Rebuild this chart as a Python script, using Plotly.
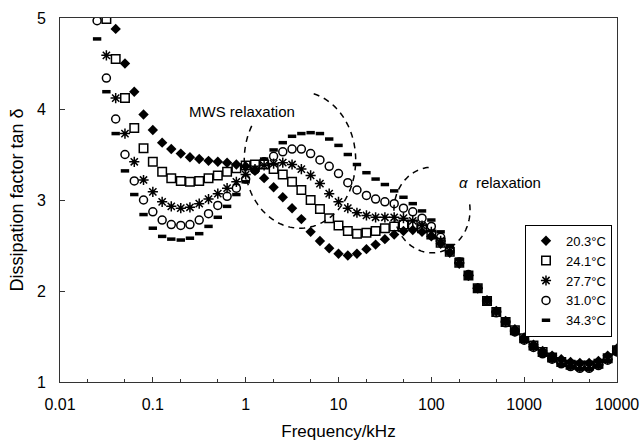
import numpy as np
import plotly.graph_objects as go

# Frequency grid (kHz), 10 points per decade
freq = [0.0251, 0.0316, 0.0398, 0.0501, 0.0631, 0.0794, 0.1, 0.126, 0.158, 0.2,
        0.251, 0.316, 0.398, 0.501, 0.631, 0.794, 1, 1.26, 1.58, 2,
        2.51, 3.16, 3.98, 5.01, 6.31, 7.94, 10, 12.6, 15.8, 20,
        25.1, 31.6, 39.8, 50.1, 63.1, 79.4, 100, 126, 158, 200,
        251, 316, 398, 501, 631, 794, 1000, 1260, 1580, 2000,
        2510, 3160, 3980, 5010, 6310, 7940, 10000]

t203 = [None, None, 4.88, 4.50, 4.19, 3.94, 3.77, 3.63, 3.56, 3.51,
        3.47, 3.45, 3.43, 3.42, 3.41, 3.39, 3.37, 3.32, 3.24, 3.14,
        3.03, 2.91, 2.79, 2.65, 2.55, 2.47, 2.41, 2.39, 2.41, 2.46,
        2.51, 2.57, 2.62, 2.66, 2.67, 2.65, 2.60, 2.52, 2.42, 2.30,
        2.17, 2.03, 1.90, 1.78, 1.67, 1.58, 1.49, 1.41, 1.34, 1.29,
        1.25, 1.22, 1.21, 1.21, 1.23, 1.29, 1.37]

t241 = [None, 4.99, 4.55, 4.12, 3.79, 3.57, 3.42, 3.31, 3.24, 3.21,
        3.20, 3.21, 3.24, 3.27, 3.31, 3.35, 3.38, 3.39, 3.39, 3.34,
        3.28, 3.20, 3.11, 3.00, 2.90, 2.80, 2.72, 2.66, 2.63, 2.64,
        2.66, 2.69, 2.71, 2.73, 2.73, 2.69, 2.62, 2.53, 2.43, 2.31,
        2.17, 2.03, 1.89, 1.77, 1.66, 1.57, 1.48, 1.40, 1.33, 1.27,
        1.22, 1.19, 1.18, 1.18, 1.20, 1.26, 1.35]

t277 = [None, 4.59, 4.12, 3.73, 3.42, 3.22, 3.09, 2.98, 2.93, 2.91,
        2.92, 2.96, 3.01, 3.07, 3.13, 3.20, 3.28, 3.34, 3.38, 3.40,
        3.41, 3.39, 3.34, 3.27, 3.18, 3.07, 2.98, 2.91, 2.86, 2.83,
        2.81, 2.81, 2.81, 2.80, 2.77, 2.72, 2.65, 2.55, 2.44, 2.31,
        2.17, 2.03, 1.89, 1.77, 1.66, 1.56, 1.47, 1.39, 1.32, 1.26,
        1.21, 1.18, 1.16, 1.16, 1.19, 1.25, 1.34]

t310 = [4.97, 4.34, 3.89, 3.50, 3.21, 3.00, 2.87, 2.78, 2.73, 2.72,
        2.73, 2.78, 2.85, 2.94, 3.04, 3.13, 3.23, 3.33, 3.42, 3.48,
        3.53, 3.56, 3.56, 3.51, 3.44, 3.37, 3.29, 3.19, 3.11, 3.05,
        3.01, 2.98, 2.96, 2.91, 2.87, 2.80, 2.71, 2.59, 2.46, 2.32,
        2.18, 2.03, 1.89, 1.76, 1.65, 1.55, 1.46, 1.38, 1.31, 1.25,
        1.20, 1.17, 1.15, 1.15, 1.18, 1.24, 1.33]

t343 = [4.77, 4.19, 3.73, 3.32, 3.06, 2.84, 2.69, 2.60, 2.57, 2.56,
        2.58, 2.63, 2.71, 2.81, 2.93, 3.06, 3.20, 3.33, 3.45, 3.55,
        3.63, 3.70, 3.73, 3.74, 3.73, 3.67, 3.60, 3.50, 3.39, 3.30,
        3.23, 3.17, 3.10, 3.03, 2.96, 2.88, 2.78, 2.65, 2.50, 2.35,
        2.19, 2.04, 1.89, 1.76, 1.64, 1.54, 1.45, 1.37, 1.30, 1.24,
        1.19, 1.16, 1.14, 1.14, 1.17, 1.23, 1.32]

names = ["20.3°C", "24.1°C", "27.7°C", "31.0°C", "34.3°C"]
series = [t203, t241, t277, t310, t343]
symbols = ["diamond", "square-open", "asterisk-open", "circle-open", "line-ew-open"]
sizes = [8, 8.5, 8.5, 8, 6]
lwidths = [0, 1.5, 1.5, 1.5, 3.5]

fig = go.Figure()
for nm, ys, sym, sz, lw in zip(names, series, symbols, sizes, lwidths):
    fig.add_trace(go.Scatter(
        x=freq, y=ys, mode="markers", name=nm,
        marker=dict(symbol=sym, size=sz, color="black",
                    line=dict(color="black", width=lw)),
    ))

# dashed hand-drawn ellipses (paper coordinates from log-frequency/value space)
def ellipse_path(cx_log, cy, rx, ry, t0, t1):
    th = np.radians(np.linspace(t0, t1, 120))
    xs = (cx_log + rx * np.cos(th) + 2) / 6
    ys = (cy + ry * np.sin(th) - 1) / 4
    pts = [f"{x:.4f},{y:.4f}" for x, y in zip(xs, ys)]
    return "M " + " L ".join(pts)

fig.add_shape(type="path", xref="paper", yref="paper",
              path=ellipse_path(0.585, 3.44, 0.60, 0.75, 150, 440),
              line=dict(color="black", width=1.5, dash="6px,5px"))
fig.add_shape(type="path", xref="paper", yref="paper",
              path=ellipse_path(2.007, 2.89, 0.41, 0.47, 95, 373),
              line=dict(color="black", width=1.5, dash="6px,5px"))

fig.add_annotation(text="MWS relaxation", xref="paper", yref="paper",
                   x=0.327, y=0.742, xanchor="center", yanchor="middle",
                   showarrow=False, font=dict(size=15, color="black"))
fig.add_annotation(text="<i>α</i>  relaxation", xref="paper", yref="paper",
                   x=0.79, y=0.547, xanchor="center", yanchor="middle",
                   showarrow=False, font=dict(size=15, color="black"))

font = "Liberation Sans, Arial, sans-serif"
fig.update_layout(
    width=643, height=446,
    margin=dict(l=60, r=26, t=18, b=64, autoexpand=False),
    paper_bgcolor="white", plot_bgcolor="white",
    font=dict(family=font, size=14, color="black"),
    showlegend=True,
    legend=dict(x=0.991, y=0.432, xanchor="right", yanchor="top",
                bordercolor="black", borderwidth=1, bgcolor="white",
                font=dict(size=13), itemwidth=30, tracegroupgap=0),
    xaxis=dict(type="log", range=[-2, 4], automargin=False,
               tickvals=[0.01, 0.1, 1, 10, 100, 1000, 10000],
               ticktext=["0.01", "0.1", "1", "10", "100", "1000", "10000"],
               ticks="inside", ticklen=5, tickcolor="#333",
               showline=True, linecolor="#333", linewidth=1, mirror=True,
               showgrid=False, zeroline=False,
               minor=dict(ticks="inside", ticklen=3, tickcolor="#333", showgrid=False),
               ticklabelstandoff=8,
               tickfont=dict(size=16),
               title=dict(text="Frequency/kHz", font=dict(size=17), standoff=12)),
    yaxis=dict(range=[1, 5], dtick=1, automargin=False,
               ticks="inside", ticklen=5, tickcolor="#333",
               showline=True, linecolor="#333", linewidth=1, mirror=True,
               showgrid=False, zeroline=False,
               ticklabelstandoff=10,
               tickfont=dict(size=16),
               title=dict(text="Dissipation factor tan δ", font=dict(size=18), standoff=8)),
)

fig.write_html("out.html")
